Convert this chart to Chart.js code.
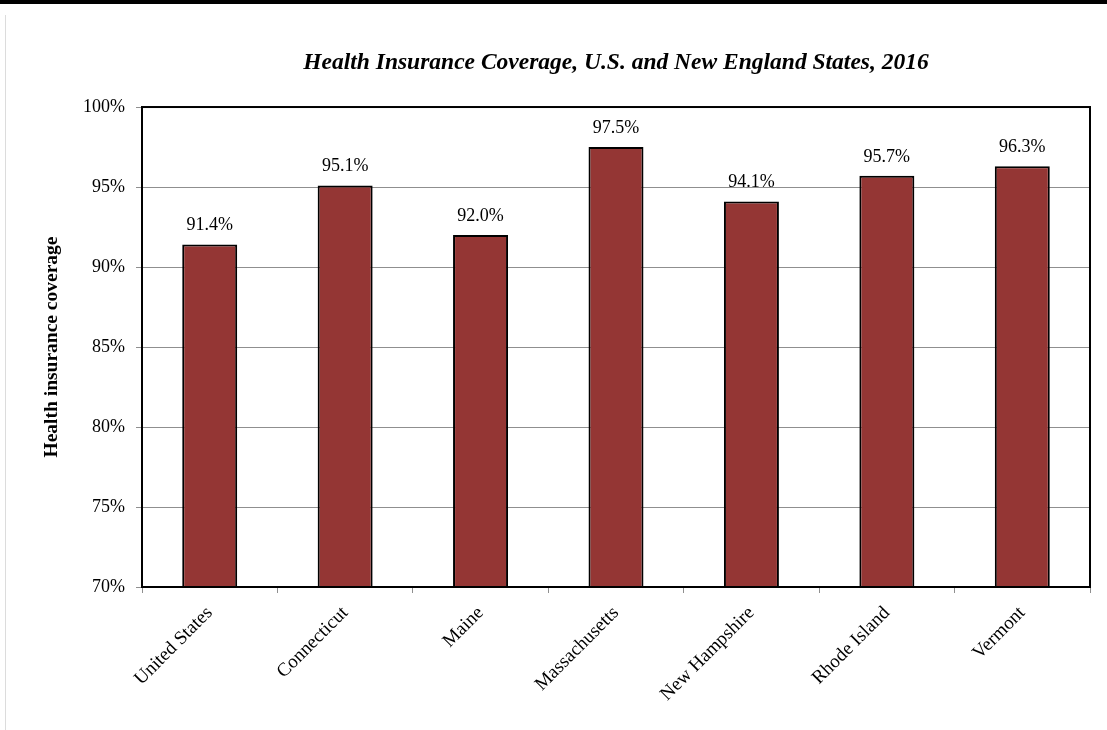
<!DOCTYPE html>
<html>
<head>
<meta charset="utf-8">
<script src="https://cdn.jsdelivr.net/npm/chart.js@4.4.1/dist/chart.umd.min.js"></script>
<style>
  html, body { margin: 0; padding: 0; background: #fff; }
  #wrap { position: relative; width: 1107px; height: 730px; overflow: hidden; }
  #topRule { position: absolute; left: 0; top: 0; width: 1107px; height: 4px; background: #000; }
  #leftRule { position: absolute; left: 5px; top: 15px; width: 1px; height: 715px; background: #dcdcdc; }
  canvas { position: absolute; left: 0; top: 0; }
</style>
</head>
<body>
<div id="wrap">
  <canvas id="coverageChart" width="1107" height="730"></canvas>
  <div id="topRule"></div>
  <div id="leftRule"></div>
</div>
<script>
// Data
const states = ['United States', 'Connecticut', 'Maine', 'Massachusetts', 'New Hampshire', 'Rhode Island', 'Vermont'];
const coverage = [91.4, 95.1, 92.0, 97.5, 94.1, 95.7, 96.3];
const yTicks = [70, 75, 80, 85, 90, 95, 100];

const serif = 'Liberation Serif, Times New Roman, serif';

// Value labels above each bar
const barLabels = {
  id: 'barLabels',
  afterDatasetsDraw(chart) {
    const ctx = chart.ctx;
    const meta = chart.getDatasetMeta(0);
    ctx.save();
    ctx.font = '18px ' + serif;
    ctx.fillStyle = '#000';
    ctx.textAlign = 'center';
    ctx.textBaseline = 'middle';
    meta.data.forEach((bar, i) => {
      ctx.fillText(coverage[i].toFixed(1) + '%', bar.x, bar.y - 19);
    });
    ctx.restore();
  }
};

// Black frame round the plot area
const plotFrame = {
  id: 'plotFrame',
  afterDraw(chart) {
    const { ctx, chartArea } = chart;
    ctx.save();
    ctx.strokeStyle = '#000';
    ctx.lineWidth = 2;
    ctx.strokeRect(chartArea.left, chartArea.top, chartArea.right - chartArea.left, chartArea.bottom - chartArea.top);
    ctx.restore();
  }
};

new Chart(document.getElementById('coverageChart'), {
  type: 'bar',
  data: {
    labels: states,
    datasets: [{
      data: coverage,
      backgroundColor: '#943634',
      borderColor: '#000',
      borderWidth: 2,
      categoryPercentage: 1,
      barPercentage: 0.406
    }]
  },
  options: {
    responsive: false,
    animation: false,
    devicePixelRatio: 1,
    layout: { padding: { top: 49, right: 17, bottom: 0, left: 0 } },
    plugins: {
      legend: { display: false },
      tooltip: { enabled: false },
      title: {
        display: true,
        fullSize: false,
        text: 'Health Insurance Coverage, U.S. and New England States, 2016',
        color: '#000',
        font: { family: serif, size: 23.5, weight: 'bold', style: 'italic', lineHeight: 1.15 },
        padding: { top: 0, bottom: 31 }
      }
    },
    scales: {
      x: {
        afterFit(scale) { scale.height = 143; },
        grid: { display: true, drawOnChartArea: false, drawTicks: true, tickLength: 6, color: '#8f8f8f', offset: true },
        border: { display: true, color: '#000', width: 2 },
        ticks: {
          color: '#000',
          font: { family: serif, size: 19 },
          maxRotation: 45,
          minRotation: 45,
          padding: 9
        }
      },
      y: {
        min: 70,
        max: 100,
        afterFit(scale) { scale.width = 142; },
        afterBuildTicks(scale) { scale.ticks = yTicks.map(v => ({ value: v })); },
        grid: { color: '#8f8f8f', tickLength: 6, lineWidth: 1 },
        border: { display: true, color: '#000', width: 2 },
        ticks: {
          color: '#000',
          font: { family: serif, size: 18 },
          padding: 11,
          callback: v => v + '%'
        },
        title: {
          display: true,
          text: 'Health insurance coverage',
          color: '#000',
          font: { family: serif, size: 19.5, weight: 'bold' },
          padding: { top: 40, bottom: 0 }
        }
      }
    }
  },
  plugins: [barLabels, plotFrame]
});
</script>
</body>
</html>
